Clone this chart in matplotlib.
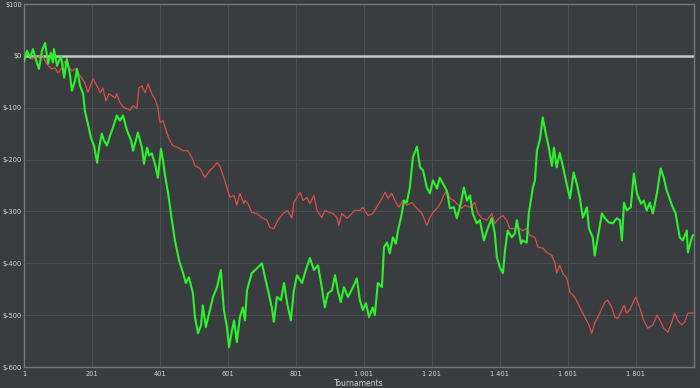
import matplotlib.pyplot as plt

# Wartości (numer turnieju, wynik w $)
green_t = [1, 10, 19, 27, 39, 45, 54, 63, 72, 80, 86, 89, 98, 110, 119, 127, 136, 142, 151, 157,
           166, 175, 180, 189, 198, 207, 216, 222, 230, 236, 245, 254, 263, 274, 283, 292, 304, 316,
           322, 336, 348, 354, 363, 369, 377, 386, 395, 404, 410, 416, 425, 436, 445, 457, 469, 477,
           486, 498, 504, 513, 522, 527, 536, 548, 557, 569, 580, 589, 598, 604, 613, 619, 627, 636,
           645, 651, 657, 671, 686, 701, 710, 719, 730, 736, 745, 757, 766, 775, 786, 795, 804, 819,
           830, 842, 854, 866, 877, 886, 895, 907, 916, 924, 933, 942, 954, 969, 980, 989, 998, 1007,
           1016, 1027, 1033, 1042, 1054, 1060, 1069, 1077, 1086, 1095, 1101, 1110, 1119, 1127, 1136,
           1145, 1157, 1166, 1175, 1186, 1195, 1204, 1216, 1224, 1233, 1245, 1254, 1266, 1274, 1286,
           1295, 1304, 1313, 1321, 1333, 1342, 1354, 1363, 1377, 1386, 1392, 1401, 1410, 1416, 1424,
           1436, 1445, 1451, 1463, 1468, 1480, 1486, 1492, 1498, 1504, 1510, 1519, 1527, 1536, 1545,
           1554, 1560, 1568, 1577, 1586, 1595, 1607, 1618, 1627, 1636, 1645, 1657, 1663, 1674, 1680,
           1689, 1701, 1710, 1721, 1733, 1745, 1754, 1760, 1766, 1774, 1786, 1795, 1804, 1816, 1824,
           1833, 1842, 1851, 1863, 1874, 1883, 1892, 1907, 1918, 1930, 1939, 1951, 1954, 1966, 1969]
green_v = [-10, 10, -4, 13, -13, -25, 10, 25, -15, 6, -13, 13, -19, 0, -42, -6, -35, -67, -48, -25,
           -58, -73, -106, -131, -158, -173, -206, -177, -150, -163, -173, -154, -138, -115, -125, -115, -144, -163,
           -183, -148, -177, -208, -177, -192, -188, -208, -235, -179, -202, -231, -265, -317, -356, -394, -419, -438,
           -427, -458, -504, -535, -519, -481, -523, -490, -465, -446, -413, -490, -523, -562, -529, -510, -552, -504,
           -485, -510, -452, -419, -410, -400, -427, -452, -485, -513, -465, -471, -438, -477, -510, -452, -423, -438,
           -413, -390, -413, -404, -446, -485, -458, -452, -423, -452, -475, -446, -465, -446, -429, -471, -490, -477,
           -504, -485, -500, -438, -446, -369, -360, -381, -350, -362, -337, -312, -279, -283, -254,
           -196, -175, -215, -221, -254, -265, -240, -256, -235, -246, -260, -294, -292, -313, -285,
           -254, -279, -269, -304, -323, -317, -356, -337, -313, -342, -388, -408, -419, -375, -337,
           -350, -342, -317, -362, -356, -360, -304, -279, -254, -240, -183, -160, -119, -150, -177,
           -212, -177, -215, -187, -212, -240, -275, -225, -246, -273, -312, -292, -333, -350, -385,
           -350, -304, -313, -321, -323, -313, -317, -356, -283, -298, -292, -227, -265, -285, -279,
           -298, -283, -304, -265, -217, -235, -260, -288, -304, -350, -356, -337, -379, -350, -346]

red_t = [1, 13, 25, 33, 42, 54, 63, 72, 83, 92, 101, 113, 122, 130, 142, 151, 160, 172, 180, 189,
         198, 204, 216, 225, 233, 242, 251, 260, 269, 274, 283, 295, 304, 313, 322, 333, 339, 348,
         357, 366, 377, 386, 395, 401, 410, 422, 430, 439, 454, 469, 483, 495, 504, 519, 533, 548,
         557, 569, 577, 589, 598, 607, 619, 627, 636, 648, 651, 660, 671, 686, 701, 716, 724, 736,
         748, 763, 777, 789, 795, 804, 813, 822, 833, 842, 854, 863, 877, 886, 898, 910, 922, 927,
         936, 951, 960, 974, 989, 998, 1013, 1027, 1042, 1054, 1063, 1072, 1083, 1092, 1104, 1116,
         1127, 1142, 1157, 1172, 1186, 1195, 1204, 1216, 1227, 1236, 1245, 1254, 1266, 1274, 1289,
         1298, 1313, 1327, 1336, 1348, 1363, 1377, 1386, 1398, 1410, 1421, 1430, 1445, 1454, 1468,
         1480, 1489, 1504, 1513, 1527, 1539, 1554, 1563, 1568, 1577, 1586, 1598, 1607, 1621, 1636,
         1651, 1663, 1671, 1680, 1689, 1701, 1710, 1718, 1730, 1739, 1748, 1760, 1766, 1774, 1783,
         1792, 1801, 1813, 1824, 1836, 1851, 1863, 1872, 1883, 1895, 1907, 1915, 1924, 1936, 1945,
         1954, 1969]
red_v = [0, 4, -6, 0, -4, 4, -10, -19, -25, -23, -33, -23, -10, -19, -29, -25, -33, -44, -52, -71,
         -54, -44, -58, -71, -62, -87, -73, -77, -81, -73, -90, -100, -102, -105, -96, -102, -62, -58,
         -71, -54, -73, -83, -100, -129, -125, -150, -163, -173, -177, -183, -183, -196, -212, -217, -235, -221,
         -215, -206, -212, -235, -254, -273, -269, -288, -265, -285, -279, -285, -302, -304, -312, -317, -331, -333,
         -317, -304, -298, -313, -283, -273, -263, -279, -273, -285, -269, -298, -312, -298, -302, -304, -312, -327,
         -304, -313, -308, -298, -298, -292, -308, -304, -288, -275, -263, -275, -265, -279, -292, -279,
         -288, -283, -294, -304, -327, -312, -302, -294, -283, -269, -260, -275, -279, -285, -294,
         -288, -292, -283, -304, -313, -317, -304, -323, -313, -308, -317, -333, -333, -331, -337,
         -333, -346, -350, -369, -371, -379, -385, -400, -419, -404, -419, -429, -456, -465, -485,
         -504, -519, -535, -515, -504, -487, -475, -471, -485, -504, -506, -490, -481, -496, -490,
         -477, -465, -487, -510, -525, -519, -500, -510, -525, -533, -513, -496, -510, -519, -513,
         -496, -496]

x_ticks = [1, 201, 401, 601, 801, 1001, 1201, 1401, 1601, 1801]
x_tick_labels = ['1', '201', '401', '601', '801', '1 001', '1 201', '1 401', '1 601', '1 801']
y_ticks = [100, 0, -100, -200, -300, -400, -500, -600]
y_tick_labels = ['$100', '$0', '$-100', '$-200', '$-300', '$-400', '$-500', '$-600']

BG = '#3a3d40'
TEXT = '#d4d4d4'

fig = plt.figure(figsize=(7, 3.88), dpi=100, facecolor=BG)
ax = fig.add_axes([24 / 700, 21 / 388, 670 / 700, 363 / 388])
ax.set_facecolor(BG)

ax.grid(True, color='#4b4e52', linewidth=0.8)
ax.set_axisbelow(True)
ax.axhline(0, color='#c8c8c8', linewidth=1.8, zorder=2)

ax.plot(red_t, red_v, color='#d9504c', linewidth=0.9, zorder=3)
ax.plot(green_t, green_v, color='#2cf22c', linewidth=1.5, zorder=4)

ax.set_xlim(1, 1972)
ax.set_ylim(-600, 100)
ax.set_xticks(x_ticks)
ax.set_xticklabels(x_tick_labels)
ax.set_yticks(y_ticks)
ax.set_yticklabels(y_tick_labels)
ax.tick_params(length=0, labelsize=4.8, colors=TEXT)
ax.tick_params(axis='y', pad=1.5)
ax.tick_params(axis='x', pad=3)

for side in ['left', 'bottom', 'right', 'top']:
    ax.spines[side].set_color('#75787b')
    ax.spines[side].set_linewidth(1.0)

ax.set_xlabel('Tournaments', fontsize=5.5, color=TEXT, labelpad=1)

fig.savefig('out.png', dpi=100, facecolor=BG)
